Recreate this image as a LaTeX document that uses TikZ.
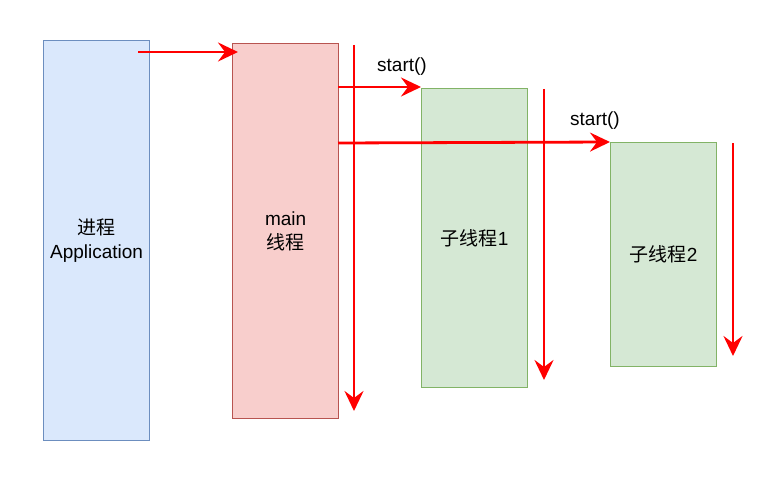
\documentclass[tikz,border=0pt]{standalone}
\usepackage{fontspec}
\setmainfont{Liberation Sans}
\newfontfamily\cjk{Noto Sans CJK SC}
\usetikzlibrary{arrows.meta}
\definecolor{bluefill}{HTML}{DAE8FC}
\definecolor{blueline}{HTML}{6C8EBF}
\definecolor{redfill}{HTML}{F8CECC}
\definecolor{redline}{HTML}{B85450}
\definecolor{greenfill}{HTML}{D5E8D4}
\definecolor{greenline}{HTML}{82B366}
\definecolor{arrred}{HTML}{FF0000}
\begin{document}
\begin{tikzpicture}[x=1pt,y=-1pt,
  box/.style={draw, line width=1.2pt, minimum width=106pt, inner sep=0pt, align=center, font=\fontsize{19}{24}\selectfont, anchor=north west},
  flow/.style={draw=arrred, line width=2.8pt, -{Stealth[length=20pt,width=19pt,inset=7pt]}},
  lbl/.style={font=\fontsize{19}{22}\selectfont, inner sep=0pt}]
\useasboundingbox (0,0) rectangle (774,487);
\node[box, fill=bluefill, draw=blueline, minimum height=400pt] (app) at (43,40) {{\cjk 进程}\\Application};
\node[box, fill=redfill, draw=redline, minimum height=375pt] (main) at (232,43) {main\\{\cjk 线程}};
\node[box, fill=greenfill, draw=greenline, minimum height=299pt] (t1) at (421,88) {{\cjk 子线程}1};
\node[box, fill=greenfill, draw=greenline, minimum height=224pt] (t2) at (610,142) {{\cjk 子线程}2};
\coordinate (a1s) at (138,52);
\coordinate (a1e) at (238,52);
\draw[flow] (a1s) -- (a1e);
\coordinate (v1s) at (354,45);
\coordinate (v1e) at (354,411);
\draw[flow] (v1s) -- (v1e);
\coordinate (a2s) at (338,87);
\coordinate (a2e) at (421,87);
\draw[flow] (a2s) -- (a2e);
\node[lbl] (s1) at (402,67) {start()};
\coordinate (a3s) at (338,143);
\coordinate (a3e) at (610,142);
\draw[flow] (a3s) -- (a3e);
\node[lbl] (s2) at (595,121) {start()};
\coordinate (v2s) at (544,89);
\coordinate (v2e) at (544,380);
\draw[flow] (v2s) -- (v2e);
\coordinate (v3s) at (733,143);
\coordinate (v3e) at (733,356);
\draw[flow] (v3s) -- (v3e);
\end{tikzpicture}
\end{document}
